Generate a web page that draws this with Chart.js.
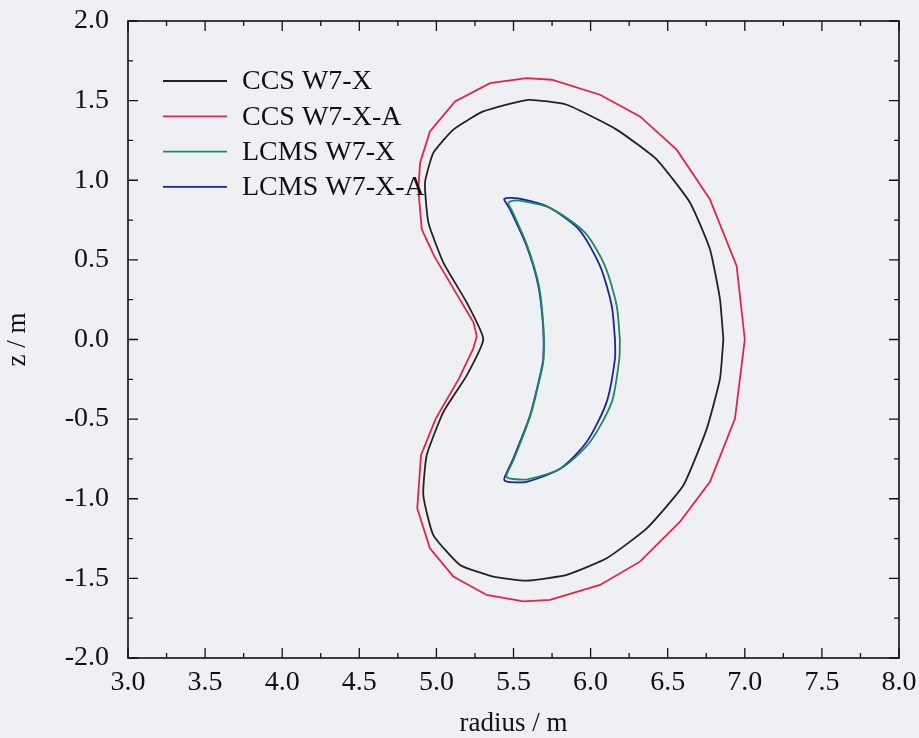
<!DOCTYPE html>
<html>
<head>
<meta charset="utf-8">
<title>CCS and LCMS cross-sections</title>
<script src="https://cdn.jsdelivr.net/npm/chart.js@4/dist/chart.umd.min.js"></script>
<style>
	html, body { margin: 0; padding: 0; background: #eff0f4; }
	#wrap { width: 919px; height: 738px; }
</style>
</head>
<body>
<div id="wrap"><canvas id="surfaces" width="919" height="738"></canvas></div>
<script>
// outlines in the (R, z) plane, in metres
const ccsR = [6.861, 6.839, 6.774, 6.645, 6.429, 6.169, 5.845, 5.596, 5.304, 5.110, 4.980, 4.926, 4.948, 5.045, 5.196, 5.304,
	5.196, 5.045, 4.937, 4.915, 4.980, 5.153, 5.369, 5.585, 5.845, 6.104, 6.364, 6.602, 6.753, 6.839, 6.861];
const ccsZ = [0.0, 0.254, 0.567, 0.859, 1.130, 1.318, 1.474, 1.505, 1.432, 1.318, 1.172, 0.984, 0.734, 0.483, 0.233, 0.003,
	-0.227, -0.456, -0.727, -0.978, -1.228, -1.416, -1.489, -1.514, -1.478, -1.374, -1.186, -0.915, -0.561, -0.247, 0.0];

const ccsAR = [7.000, 6.947, 6.774, 6.558, 6.320, 6.061, 5.748, 5.585, 5.348, 5.121, 4.958, 4.894, 4.883, 4.905, 4.985, 5.125, 5.240, 5.262,
	5.238, 5.145, 4.995, 4.900, 4.876, 4.958, 5.110, 5.326, 5.564, 5.737, 6.061, 6.320, 6.580, 6.774, 6.936, 7.000];
const ccsAZ = [0.0, 0.462, 0.880, 1.192, 1.401, 1.537, 1.631, 1.641, 1.610, 1.495, 1.307, 1.109, 0.942, 0.692, 0.525, 0.296, 0.108, 0.020,
	-0.059, -0.247, -0.498, -0.727, -1.061, -1.311, -1.489, -1.604, -1.645, -1.635, -1.541, -1.395, -1.144, -0.894, -0.498, 0.0];

const lcmsR = [6.190, 6.169, 6.093, 5.964, 5.740, 5.540, 5.480, 5.466, 5.490, 5.590, 5.665, 5.695,
	5.695, 5.675, 5.610, 5.505, 5.455, 5.458, 5.490, 5.590, 5.815, 5.996, 6.137, 6.186, 6.190];
const lcmsZ = [0.0, 0.212, 0.462, 0.671, 0.825, 0.872, 0.868, 0.854, 0.810, 0.587, 0.337, 0.066,
	-0.122, -0.227, -0.477, -0.745, -0.850, -0.866, -0.875, -0.878, -0.805, -0.644, -0.393, -0.122, 0.0];

const lcmsAR = [6.158, 6.137, 6.061, 5.925, 5.720, 5.531, 5.470, 5.439, 5.450, 5.477, 5.585, 5.661, 5.693,
	5.693, 5.672, 5.607, 5.498, 5.445, 5.441, 5.480, 5.585, 5.802, 5.974, 6.104, 6.158, 6.158];
const lcmsAZ = [0.003, 0.212, 0.462, 0.690, 0.835, 0.886, 0.889, 0.881, 0.860, 0.817, 0.587, 0.337, 0.066,
	-0.122, -0.227, -0.477, -0.748, -0.860, -0.884, -0.895, -0.894, -0.811, -0.644, -0.393, -0.122, 0.003];

const seriesNames = ["CCS W7-X", "CCS W7-X-A", "LCMS W7-X", "LCMS W7-X-A"];

const serif = "'Liberation Serif', 'Times New Roman', serif";

function points(rs, zs) {
	return rs.map((r, i) => ({ x: r, y: zs[i] }));
}

// paper colour behind everything
const paper = {
	id: "paper",
	beforeDraw(chart) {
		const ctx = chart.ctx;
		ctx.save();
		ctx.fillStyle = "#eff0f4";
		ctx.fillRect(0, 0, chart.width, chart.height);
		ctx.restore();
	},
};

// box round the plot with inward ticks on every side
const frame = {
	id: "frame",
	afterDraw(chart) {
		const ctx = chart.ctx;
		const a = chart.chartArea;
		const xs = chart.scales.x;
		const ys = chart.scales.y;
		ctx.save();
		ctx.strokeStyle = "#111";
		ctx.lineWidth = 1.6;
		ctx.strokeRect(a.left, a.top, a.right - a.left, a.bottom - a.top);
		ctx.lineWidth = 1.3;
		ctx.beginPath();
		for (let v = 3; v <= 8.001; v += 0.25) {
			const px = xs.getPixelForValue(v);
			const len = Math.abs(v * 2 - Math.round(v * 2)) < 0.01 ? 10 : 5;
			ctx.moveTo(px, a.bottom);
			ctx.lineTo(px, a.bottom - len);
			ctx.moveTo(px, a.top);
			ctx.lineTo(px, a.top + len);
		}
		for (let v = -2; v <= 2.001; v += 0.25) {
			const py = ys.getPixelForValue(v);
			const len = Math.abs(v * 2 - Math.round(v * 2)) < 0.01 ? 10 : 5;
			ctx.moveTo(a.left, py);
			ctx.lineTo(a.left + len, py);
			ctx.moveTo(a.right, py);
			ctx.lineTo(a.right - len, py);
		}
		ctx.stroke();
		ctx.restore();
	},
};

// legend sits inside the plot, top left
const insideLegend = {
	id: "insideLegend",
	afterDraw(chart) {
		const ctx = chart.ctx;
		const a = chart.chartArea;
		ctx.save();
		ctx.font = "28px " + serif;
		ctx.textBaseline = "middle";
		chart.data.datasets.forEach((ds, i) => {
			const y = a.top + 60 + i * 35.3;
			ctx.strokeStyle = ds.borderColor;
			ctx.lineWidth = 1.8;
			ctx.beginPath();
			ctx.moveTo(a.left + 35, y);
			ctx.lineTo(a.left + 99, y);
			ctx.stroke();
			ctx.fillStyle = "#111";
			ctx.fillText(ds.label, a.left + 114, y + 1);
		});
		ctx.restore();
	},
};

function line(label, data, colour, tension) {
	return {
		label: label,
		data: data,
		showLine: true,
		borderColor: colour,
		borderWidth: 1.8,
		pointRadius: 0,
		tension: tension,
		fill: false,
	};
}

const ctx = document.getElementById("surfaces");
new Chart(ctx, {
	type: "scatter",
	data: {
		datasets: [
			line(seriesNames[0], points(ccsR, ccsZ), "#222222", 0.15),
			line(seriesNames[1], points(ccsAR, ccsAZ), "#e8204c", 0),
			line(seriesNames[2], points(lcmsR, lcmsZ), "#1b8a5e", 0.25),
			line(seriesNames[3], points(lcmsAR, lcmsAZ), "#1c24a0", 0.25),
		],
	},
	options: {
		responsive: false,
		animation: false,
		layout: { padding: { top: 21, right: 20, left: 0, bottom: 0 } },
		plugins: {
			legend: { display: false },
			tooltip: { enabled: false },
		},
		scales: {
			x: {
				type: "linear",
				min: 3,
				max: 8,
				grid: { display: false, drawTicks: false },
				border: { display: false },
				ticks: {
					stepSize: 0.5,
					padding: 8,
					color: "#111",
					font: { family: serif, size: 28 },
					callback: (v) => v.toFixed(1),
				},
				title: {
					display: true,
					text: "radius / m",
					color: "#111",
					font: { family: serif, size: 27 },
					padding: { top: 0, bottom: -2 },
				},
				// fixed box; end labels may hang into the page margin
				afterFit: (s) => {
					s.height = 80;
					s.paddingLeft = 0;
					s.paddingRight = 0;
				},
			},
			y: {
				type: "linear",
				min: -2,
				max: 2,
				grid: { display: false, drawTicks: false },
				border: { display: false },
				ticks: {
					stepSize: 0.5,
					padding: 19,
					color: "#111",
					font: { family: serif, size: 28 },
					callback: (v) => v.toFixed(1),
				},
				title: {
					display: true,
					text: "z / m",
					color: "#111",
					font: { family: serif, size: 27 },
					padding: { top: 2, bottom: 0 },
				},
				afterFit: (s) => {
					s.width = 128;
					s.paddingTop = 0;
					s.paddingBottom = 0;
				},
			},
		},
	},
	plugins: [paper, frame, insideLegend],
});
</script>
</body>
</html>
